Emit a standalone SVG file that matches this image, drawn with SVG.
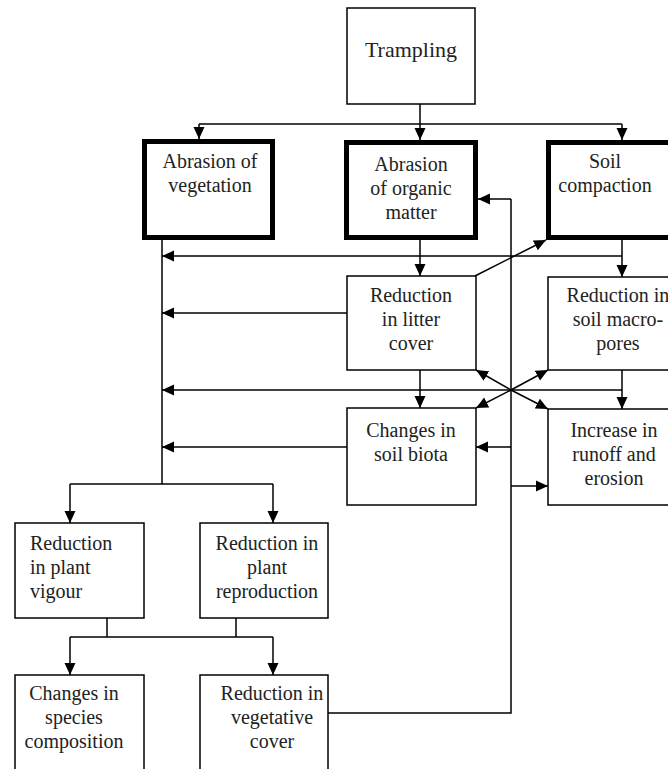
<svg xmlns="http://www.w3.org/2000/svg" width="668" height="769" viewBox="0 0 668 769">
<defs>
<marker id="ah" markerUnits="userSpaceOnUse" markerWidth="13" markerHeight="12" refX="12" refY="6" orient="auto">
<path d="M0,0.5 L12,6 L0,11.5 Z" fill="#000"/>
</marker>
<style>
.box{fill:#fff;stroke:#000;stroke-width:1.5}
.thick{fill:#fff;stroke:#000;stroke-width:5}
.t{font-family:"Liberation Serif","Times New Roman",serif;font-size:20px;fill:#222;text-anchor:middle}
.tl{text-anchor:start}
.c{fill:none;stroke:#000;stroke-width:1.5}
.a{marker-end:url(#ah)}
</style>
</defs>
<rect width="668" height="769" fill="#fff"/>
<g id="connectors">
<path class="c a" d="M420,104 V140"/>
<path class="c" d="M199,124 H622"/>
<path class="c a" d="M199,124 V139"/>
<path class="c a" d="M622,124 V140"/>
<path class="c a" d="M420,240 V276"/>
<path class="c a" d="M622,240 V277"/>
<path class="c a" d="M622,256 H162"/>
<path class="c" d="M162,240 V484"/>
<path class="c" d="M70,484 H273"/>
<path class="c a" d="M70,484 V523"/>
<path class="c a" d="M273,484 V523"/>
<path class="c a" d="M347,313 H162"/>
<path class="c a" d="M475,276 L546,240"/>
<path class="c a" d="M420,370 V408"/>
<path class="c a" d="M622,370 V409"/>
<path class="c a" d="M622,390 H162"/>
<path class="c a" d="M511,390 L476,370"/>
<path class="c a" d="M511,390 L548,370"/>
<path class="c a" d="M511,390 L476,408"/>
<path class="c a" d="M511,390 L548,409"/>
<path class="c" d="M328,713 H511 V199"/>
<path class="c a" d="M511,199 H478"/>
<path class="c a" d="M511,447 H476"/>
<path class="c a" d="M511,486 H548"/>
<path class="c a" d="M347,447 H162"/>
<path class="c" d="M107,618 V637 M236,618 V637 M70,637 H273"/>
<path class="c a" d="M70,637 V675"/>
<path class="c a" d="M273,637 V675"/>
</g>
<g id="trampling">
<rect class="box" x="347" y="8" width="128" height="96"/>
<text class="t" x="411" y="57" style="font-size:22px">Trampling</text>
</g>
<g id="abrasion-vegetation">
<rect class="thick" x="144.5" y="141.5" width="128" height="96"/>
<text class="t" x="210" y="168">Abrasion of</text>
<text class="t" x="210" y="192">vegetation</text>
</g>
<g id="abrasion-organic">
<rect class="thick" x="346.5" y="142.5" width="129" height="95"/>
<text class="t" x="411" y="171">Abrasion</text>
<text class="t" x="411" y="195">of organic</text>
<text class="t" x="411" y="219">matter</text>
</g>
<g id="soil-compaction">
<rect class="thick" x="548.5" y="142.5" width="140" height="95"/>
<text class="t" x="605" y="168">Soil</text>
<text class="t" x="605" y="192">compaction</text>
</g>
<g id="litter-cover">
<rect class="box" x="347" y="276" width="129" height="94"/>
<text class="t" x="411" y="302">Reduction</text>
<text class="t" x="411" y="326">in litter</text>
<text class="t" x="411" y="350">cover</text>
</g>
<g id="macropores">
<rect class="box" x="548" y="277" width="145" height="93"/>
<text class="t" x="618" y="302">Reduction in</text>
<text class="t" x="618" y="326">soil macro-</text>
<text class="t" x="618" y="350">pores</text>
</g>
<g id="soil-biota">
<rect class="box" x="347" y="408" width="129" height="97"/>
<text class="t" x="411" y="437">Changes in</text>
<text class="t" x="411" y="461">soil biota</text>
</g>
<g id="runoff">
<rect class="box" x="548" y="409" width="145" height="96"/>
<text class="t" x="614" y="437">Increase in</text>
<text class="t" x="614" y="461">runoff and</text>
<text class="t" x="614" y="485">erosion</text>
</g>
<g id="plant-vigour">
<rect class="box" x="15" y="523" width="129" height="95"/>
<text class="t tl" x="30" y="550">Reduction</text>
<text class="t tl" x="30" y="574">in plant</text>
<text class="t tl" x="30" y="598">vigour</text>
</g>
<g id="plant-reproduction">
<rect class="box" x="200" y="523" width="128" height="95"/>
<text class="t" x="267" y="550">Reduction in</text>
<text class="t" x="267" y="574">plant</text>
<text class="t" x="267" y="598">reproduction</text>
</g>
<g id="species-composition">
<rect class="box" x="15" y="675" width="129" height="110"/>
<text class="t" x="74" y="700">Changes in</text>
<text class="t" x="74" y="724">species</text>
<text class="t" x="74" y="748">composition</text>
</g>
<g id="vegetative-cover">
<rect class="box" x="200" y="675" width="128" height="110"/>
<text class="t" x="272" y="700">Reduction in</text>
<text class="t" x="272" y="724">vegetative</text>
<text class="t" x="272" y="748">cover</text>
</g>
</svg>
